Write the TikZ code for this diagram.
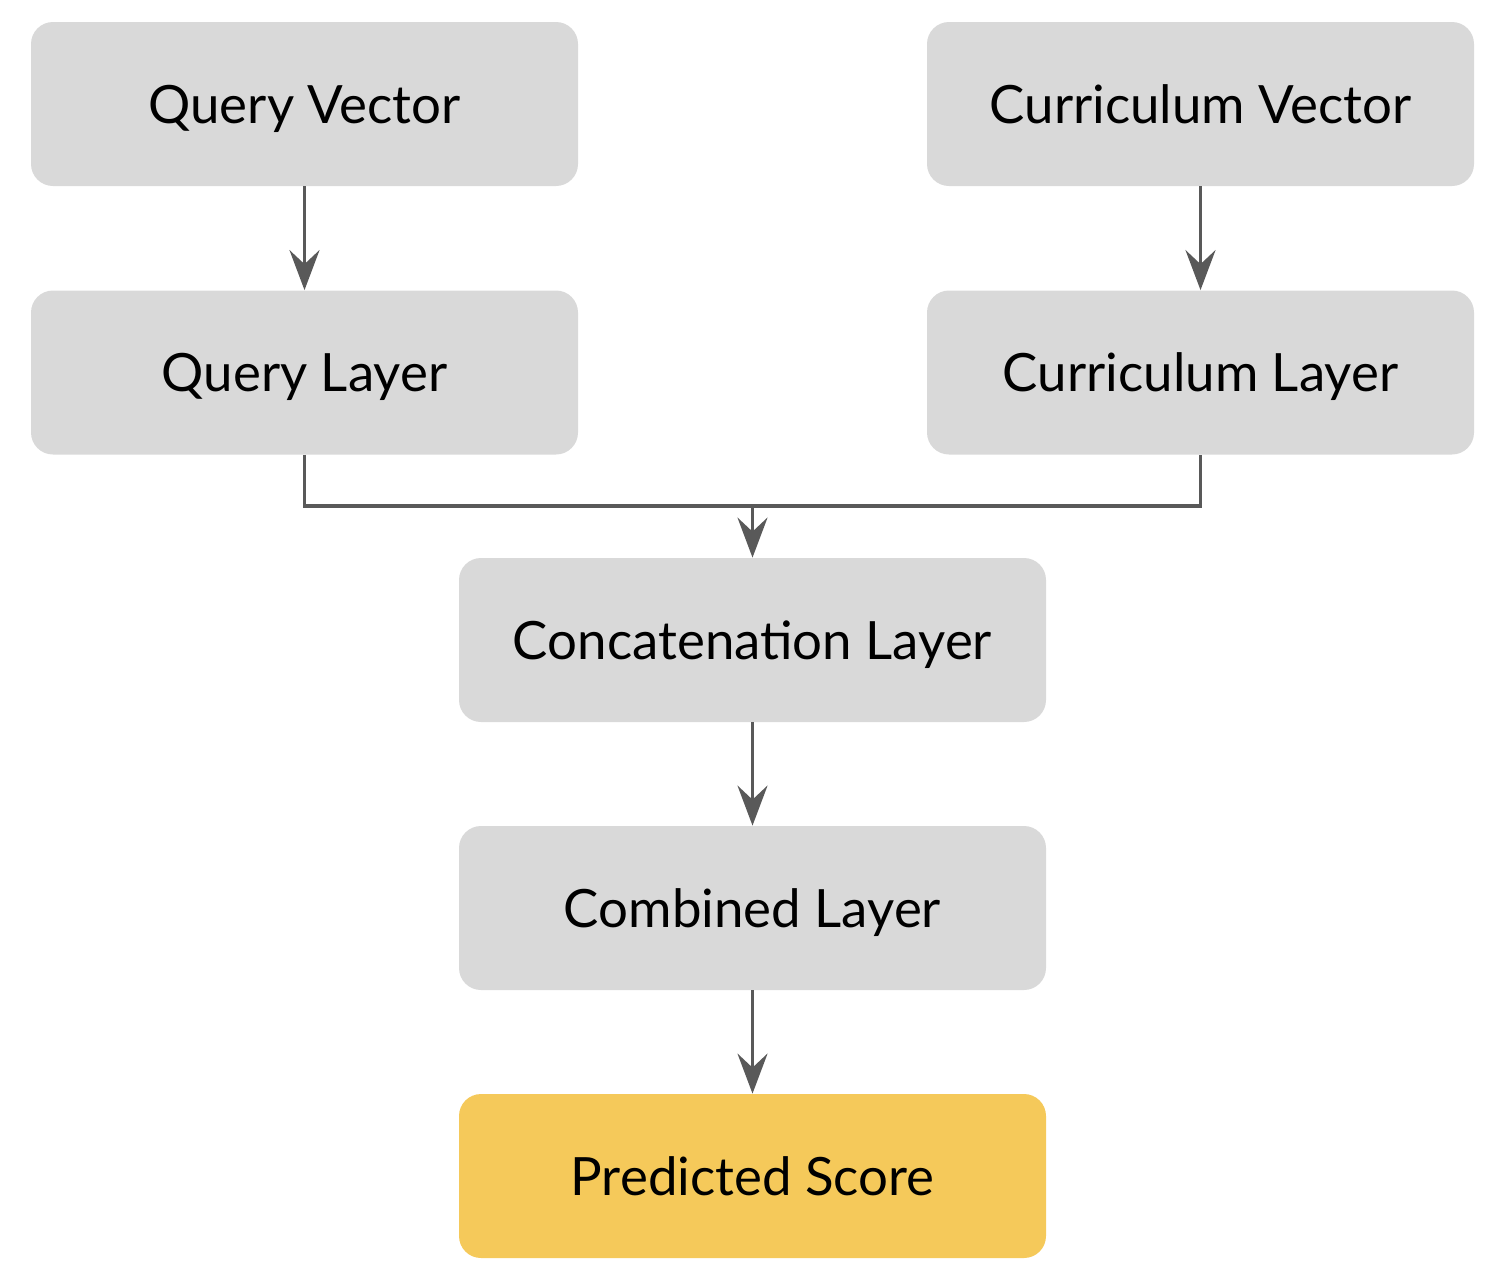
\documentclass[tikz,border=0pt]{standalone}
\usepackage{fontspec}
\setmainfont{Lato}
\usetikzlibrary{arrows.meta}
\definecolor{boxgray}{HTML}{D9D9D9}
\definecolor{boxgold}{HTML}{F5C95A}
\definecolor{linegray}{HTML}{595959}
\tikzset{
  block/.style={rounded corners=11pt, minimum width=273.5pt, minimum height=82pt, inner sep=0pt, text height=19pt, text depth=-1pt, font=\fontsize{26.4}{30}\selectfont, text=black},
  grayblock/.style={block, fill=boxgray},
  wideblock/.style={minimum width=293.5pt},
  goldblock/.style={block, fill=boxgold},
  conn/.style={draw=linegray, line width=1.7pt, -{Stealth[length=20pt,width=15pt,inset=7pt]}},
  plain/.style={draw=linegray, line width=1.7pt}
}
\begin{document}
\begin{tikzpicture}[x=0.5pt,y=-0.5pt]
\useasboundingbox (0,0) rectangle (1508,1286);
\node[grayblock] (qv) at (304.5,104) {Query Vector};
\node[grayblock] (cv) at (1200.5,104) {Curriculum Vector};
\node[grayblock] (ql) at (304.5,372.5) {Query Layer};
\node[grayblock] (cl) at (1200.5,372.5) {Curriculum Layer};
\node[grayblock,wideblock] (cat) at (752.5,640) {Concatenation Layer};
\node[grayblock,wideblock] (comb) at (752.5,908) {Combined Layer};
\node[goldblock,wideblock] (ps) at (752.5,1176) {Predicted Score};
\coordinate (j) at (752.5,506);
\draw[conn] (qv) -- (ql);
\draw[conn] (cv) -- (cl);
\draw[plain] (ql.south) |- (j) -| (cl.south);
\draw[conn] (j) -- (cat);
\draw[conn] (cat) -- (comb);
\draw[conn] (comb) -- (ps);
\end{tikzpicture}
\end{document}
